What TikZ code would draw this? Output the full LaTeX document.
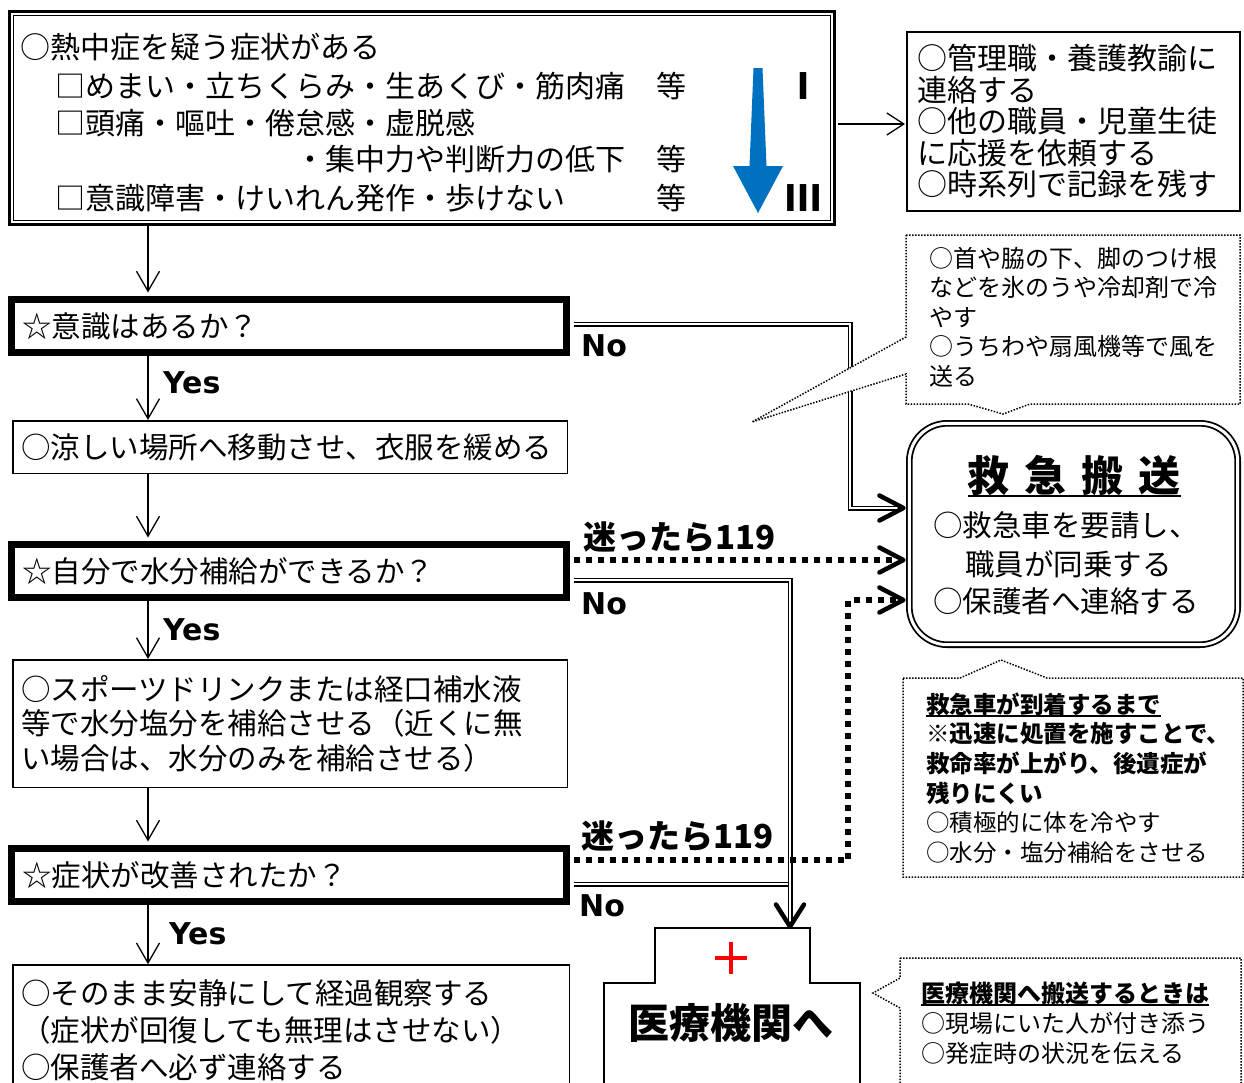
\documentclass[tikz,border=0pt]{standalone}
\usepackage{fontspec}
\setmainfont{Noto Sans CJK JP}
\newfontfamily\latfont{DejaVu Sans}
\usetikzlibrary{arrows.meta,calc}
\definecolor{arrowblue}{HTML}{0070C0}
\newcommand\fsz[2]{\fontsize{#1}{#2}\selectfont\lineskiplimit=-100pt\relax}
\newcommand\myul[2][4pt]{\leavevmode\setbox0\hbox{#2}\rlap{\rule[-#1]{\wd0}{2pt}}\box0}
\newcommand\headR[1]{\draw[bighead] ($(#1)+(-24,-12.5)$) -- (#1) -- ($(#1)+(-24,12.5)$);}
\newcommand\headD[1]{\draw[bighead] ($(#1)+(-14,-22)$) -- (#1) -- ($(#1)+(14,-22)$);}
\begin{document}
\begin{tikzpicture}[x=1pt,y=-1pt,
  txt/.style={inner sep=0pt, anchor=west},
  decbox/.style={draw, line width=7pt, minimum height=53pt, text width=534pt, inner xsep=10.5pt, inner ysep=0pt, align=left, font=\fsz{29.5}{29.5}},
  thinbox/.style={draw, line width=1.5pt, text width=538pt, inner xsep=8.25pt, inner ysep=0pt, align=left},
  arr/.style={line width=1.3pt, -{Straight Barb[length=20pt,width=23pt]}},
  arrsmall/.style={line width=1.3pt, -{Straight Barb[length=17pt,width=22pt]}},
  dbl/.style={double, double distance=2.3pt, line width=1.35pt, line join=miter},
  dotline/.style={line width=6pt, dash pattern=on 6pt off 6pt},
  bighead/.style={line width=4.5pt, line cap=round, line join=round},
  calloutbox/.style={draw, fill=white, line width=1.5pt, dash pattern=on 1.5pt off 1.5pt},
  yn/.style={inner sep=0pt, anchor=west, font=\latfont\bfseries\fsz{30}{30}},
  maytta/.style={inner sep=0pt, anchor=west, font=\bfseries\fsz{33}{33}}
]
\path[use as bounding box, clip] (0,0) rectangle (1244,1082);

% ---------- top symptom box ----------
\node[draw, line width=3pt, minimum width=825pt, minimum height=213pt, inner sep=0pt] (top) at (422,118) {};
\draw[line width=1.5pt] ([shift={(5.5,5.5)}]top.north west) rectangle ([shift={(-5.5,-5.5)}]top.south east);
\node[txt, font=\fsz{30}{30}] (s1) at (20,47) {○熱中症を疑う症状がある};
\node[txt, font=\fsz{30}{30}] (s2) at (55,86) {□めまい・立ちくらみ・生あくび・筋肉痛};
\node[txt, font=\fsz{30}{30}] (s3) at (55,123) {□頭痛・嘔吐・倦怠感・虚脱感};
\node[txt, font=\fsz{30}{30}, anchor=east] (s4) at (626,159) {・集中力や判断力の低下};
\node[txt, font=\fsz{30}{30}] (s5) at (55,198) {□意識障害・けいれん発作・歩けない};
\node[inner sep=0pt, font=\fsz{30}{30}] (e1) at (671,86) {等};
\node[inner sep=0pt, font=\fsz{30}{30}] (e2) at (671,159) {等};
\node[inner sep=0pt, font=\fsz{30}{30}] (e3) at (671,198) {等};
\fill[arrowblue] (753.5,68) -- (762.5,68) -- (766.5,166) -- (783,166) -- (758,213) -- (733,166) -- (749.5,166) -- cycle;
\node[inner sep=0pt, font=\bfseries\fsz{36}{36}] (lv1) at (803,86) {Ⅰ};
\node[inner sep=0pt, font=\bfseries\fsz{36}{36}] (lv3) at (803,198) {Ⅲ};

% ---------- right contact box ----------
\node[draw, line width=2pt, minimum width=333pt, minimum height=179pt, text width=313pt, inner xsep=10pt, inner ysep=0pt, align=left, font=\fsz{30}{31.5}] (rb) at (1073.5,121.5)
  {○管理職・養護教諭に\\連絡する\\○他の職員・児童生徒\\に応援を依頼する\\○時系列で記録を残す};

% ---------- left column ----------
\node[decbox] (d1) at (289,326) {☆意識はあるか？};
\node[thinbox, minimum height=52.5pt, font=\fsz{29.5}{29.5}] (b1) at (290,447) {○涼しい場所へ移動させ、衣服を緩める};
\node[decbox] (d2) at (289,571) {☆自分で水分補給ができるか？};
\node[thinbox, minimum height=127.5pt, font=\fsz{29.5}{34.5}] (b2) at (290,723.5)
  {○スポーツドリンクまたは経口補水液\\等で水分塩分を補給させる（近くに無\\い場合は、水分のみを補給させる）};
\node[decbox] (d3) at (289,875) {☆症状が改善されたか？};
\node[thinbox, minimum height=130pt, text width=540pt, font=\fsz{29.5}{37}] (b3) at (291,1030)
  {○そのまま安静にして経過観察する\\（症状が回復しても無理はさせない）\\○保護者へ必ず連絡する};

% ---------- emergency transport box ----------
\node[draw, double, double distance=3pt, line width=1.8pt, rounded corners=38pt, minimum width=328.4pt, minimum height=221.4pt, inner sep=0pt] (kyu) at (1073.5,534) {};
\node[inner sep=0pt, font=\bfseries\fsz{42}{42}] (kyut) at (1074,476) {\myul[5pt]{救\hspace{15pt}急\hspace{15pt}搬\hspace{15pt}送}};
\node[txt, font=\fsz{29.5}{29.5}] (k1) at (933,525) {○救急車を要請し、};
\node[txt, font=\fsz{29.5}{29.5}] (k2) at (965,564) {職員が同乗する};
\node[txt, font=\fsz{29.5}{29.5}] (k3) at (933,601) {○保護者へ連絡する};

% ---------- labels ----------
\node[yn] (y1) at (163,383) {Yes};
\node[yn] (y2) at (163,630) {Yes};
\node[yn] (y3) at (169,934) {Yes};
\node[yn] (n1) at (581,346) {No};
\node[yn] (n2) at (581,604) {No};
\node[yn] (n3) at (579,906) {No};
\node[maytta] (m1) at (583,537) {迷ったら119};
\node[maytta] (m2) at (581,836) {迷ったら119};

% ---------- vertical flow arrows ----------
\coordinate (colx) at (148,0);
\draw[arr, shorten >=3.5pt] (top.south -| colx) -- (d1.north -| colx);
\draw[arr] (d1.south -| colx) -- (b1.north -| colx);
\draw[arr, shorten >=3.5pt] (b1.south -| colx) -- (d2.north -| colx);
\draw[arr] (d2.south -| colx) -- (b2.north -| colx);
\draw[arr, shorten >=3.5pt] (b2.south -| colx) -- (d3.north -| colx);
\draw[arr] (d3.south -| colx) -- (b3.north -| colx);

% top box -> contact box
\coordinate (v1) at (0,124);
\draw[arrsmall] ([xshift=1.5pt]top.east |- v1) -- ([xshift=-1pt]rb.west |- v1);

% ---------- right side connectors ----------
\coordinate (d1r) at ([xshift=3.5pt]d1.east);
\coordinate (d2r) at ([xshift=3.5pt]d2.east);
\coordinate (d3r) at ([xshift=3.5pt]d3.east);
\coordinate (kyuw) at ([xshift=-7pt]kyu.west);
\coordinate (kyuh) at ([xshift=-5pt]kyu.west);
\coordinate (kyud) at ([xshift=-12pt]kyu.west);

% d1 No -> kyu (double line)
\coordinate (p1) at (850,324);
\coordinate (p2) at (850,508);
\draw[dbl] (d1r |- p1) -- (p1) -- (p2) -- (kyuw |- p2);
\coordinate (h1) at (kyuh |- p2);
\headR{h1}

% d2 119 -> kyu (dotted)
\coordinate (q1) at (0,560);
\draw[dotline] (d2r |- q1) -- (kyud |- q1);
\coordinate (h2) at (kyuh |- q1);
\headR{h2}

% d2 No -> hospital (double line)
\coordinate (r1) at (790,580);
\coordinate (hosptop) at (790,926.5);
\draw[dbl] (d2r |- r1) -- (r1) -- ([yshift=5pt]hosptop);
\headD{hosptop}

% d3 119 -> kyu (dotted)
\coordinate (w1) at (848,860);
\coordinate (w2) at (848,600);
\draw[dotline] (d3r |- w1) -- (w1) -- (w2) -- (kyud |- w2);
\coordinate (h3) at (kyuh |- w2);
\headR{h3}

% d3 No -> joins line to hospital
\coordinate (u1) at (788.3,884);
\draw[dbl] (d3r |- u1) -- (u1);

% ---------- callouts ----------
\draw[calloutbox] (906,235) -- (1240,235) -- (1240,404) -- (1030,404) -- (1003,414) -- (968,404) -- (906,404) -- (906,374) -- (752,422) -- (906,337) -- cycle;
\node[txt, align=left, font=\fsz{24}{29.5}] (c1) at (929,317)
  {○首や脇の下、脚のつけ根\\などを氷のうや冷却剤で冷\\やす\\○うちわや扇風機等で風を\\送る};

\draw[calloutbox] (903,678) -- (960,678) -- (1001,660) -- (1047,678) -- (1243,678) -- (1243,877) -- (903,877) -- cycle;
\node[txt, align=left, font=\fsz{23.5}{29.6}] (c2) at (926,778)
  {{\bfseries\myul{救急車が到着するまで}}\\{\bfseries ※迅速に処置を施すことで、}\\{\bfseries 救命率が上がり、後遺症が}\\{\bfseries 残りにくい}\\○積極的に体を冷やす\\○水分・塩分補給をさせる};

\draw[calloutbox] (900,958) -- (1241,958) -- (1241,1095) -- (900,1095) -- (900,1008) -- (873,993) -- (900,978) -- cycle;
\node[txt, align=left, font=\fsz{24}{30}] (c3) at (921,1023)
  {{\bfseries\myul{医療機関へ搬送するときは}}\\○現場にいた人が付き添う\\○発症時の状況を伝える};

% ---------- hospital ----------
\draw[line width=2.5pt] (604,1095) -- (604,983) -- (655,983) -- (655,928) -- (810,928) -- (810,983) -- (860,983) -- (860,1095);
\draw[red, line width=4.5pt] (715,958) -- (747,958) (731,942) -- (731,974);
\node[inner sep=0pt, font=\bfseries\fsz{41}{41}] (hospt) at (731,1023) {医療機関へ};
\end{tikzpicture}
\end{document}
